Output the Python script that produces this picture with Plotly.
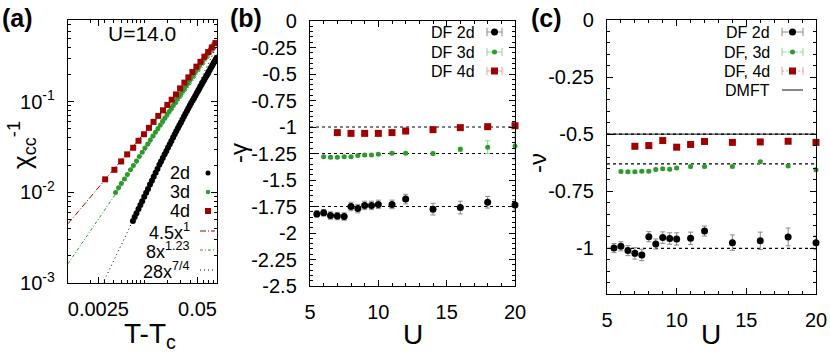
import plotly.graph_objects as go

# ---------------- Panel (a): chi_cc^-1 vs T - Tc at U = 14.0 ----------------
a_x_2d = [0.0071, 0.0075, 0.0079, 0.0084, 0.0089, 0.0094, 0.0100, 0.0106, 0.0112, 0.0119,
          0.0126, 0.0133, 0.0141, 0.0149, 0.0158, 0.0166, 0.0175, 0.0185, 0.0195, 0.0205,
          0.0216, 0.0227, 0.0239, 0.0251, 0.0263, 0.0276, 0.0289, 0.0303, 0.0317, 0.0332,
          0.0347, 0.0363, 0.0379, 0.0396, 0.0413, 0.0431, 0.0449, 0.0468, 0.0487, 0.0507,
          0.0527, 0.0548, 0.0569, 0.0591, 0.0613, 0.0636, 0.0659, 0.0683, 0.0707, 0.0732,
          0.0757, 0.0783, 0.0809, 0.0836, 0.0863, 0.0890]
a_y_2d = [0.00484, 0.00535, 0.00588, 0.00653, 0.00723, 0.00798, 0.00891, 0.00989, 0.0109, 0.0122,
          0.0134, 0.0148, 0.0164, 0.0181, 0.0201, 0.0219, 0.0239, 0.0262, 0.0286, 0.0312,
          0.0339, 0.0369, 0.0402, 0.0438, 0.0471, 0.0509, 0.0548, 0.0590, 0.0635, 0.0684,
          0.0733, 0.0789, 0.0845, 0.0908, 0.0964, 0.1026, 0.1091, 0.1161, 0.1236, 0.1312,
          0.1390, 0.1476, 0.1560, 0.1652, 0.1742, 0.1841, 0.1945, 0.2046, 0.2158, 0.2280,
          0.2393, 0.2518, 0.2642, 0.2773, 0.2911, 0.3048]

a_x_3d = [0.0042, 0.0046, 0.0050, 0.0055, 0.0060, 0.0066, 0.0072, 0.0079, 0.0086, 0.0094,
          0.0102, 0.0111, 0.0120, 0.0130, 0.0140, 0.0151, 0.0162, 0.0174, 0.0186, 0.0199,
          0.0212, 0.0226, 0.0240, 0.0255, 0.0270, 0.0286, 0.0302, 0.0319, 0.0336, 0.0354,
          0.0372, 0.0391, 0.0410, 0.0430, 0.0450, 0.0471, 0.0492, 0.0514, 0.0536, 0.0559,
          0.0582, 0.0606, 0.0630, 0.0655, 0.0680, 0.0706, 0.0732, 0.0759, 0.0786, 0.0814]
a_y_3d = [0.00997, 0.0112, 0.0125, 0.0140, 0.0157, 0.0177, 0.0198, 0.0222, 0.0248, 0.0277,
          0.0308, 0.0342, 0.0378, 0.0418, 0.0460, 0.0506, 0.0554, 0.0606, 0.0660, 0.0719,
          0.0779, 0.0845, 0.0912, 0.0985, 0.1059, 0.1140, 0.1221, 0.1309, 0.1398, 0.1494,
          0.1591, 0.1695, 0.1800, 0.1912, 0.2026, 0.2147, 0.2270, 0.2400, 0.2531, 0.2669,
          0.2810, 0.2958, 0.3107, 0.3264, 0.3423, 0.3590, 0.3759, 0.3936, 0.4115, 0.4302]

a_x_4d = [0.00307, 0.00406, 0.00498, 0.00597, 0.00716, 0.00841, 0.00991, 0.01153, 0.01324, 0.01528,
          0.01762, 0.0201, 0.0229, 0.0261, 0.0295, 0.0336, 0.0379, 0.0428, 0.0483, 0.0546,
          0.0615, 0.0689, 0.0769, 0.0859]
a_y_4d = [0.0139, 0.0177, 0.0219, 0.0262, 0.0310, 0.0370, 0.0437, 0.0514, 0.0598, 0.0696,
          0.0802, 0.092, 0.105, 0.120, 0.140, 0.162, 0.185, 0.212, 0.243, 0.275,
          0.313, 0.352, 0.395, 0.442]

# power-law guides shown in the legend of panel (a): coef * x^exp
fit_labels = ["4.5x<sup>1</sup>", "8x<sup>1.23</sup>", "28x<sup>7/4</sup>"]
fit_coef = [4.5, 8.0, 28.0]
fit_exp = [1.0, 1.23, 1.75]
fit_x = [0.001, 0.09]

a_xtick_vals = [0.0025, 0.05]
a_xtick_text = ["0.0025", "0.05"]
a_ytick_vals = [0.001, 0.01, 0.1]
a_ytick_text = ["10<sup>-3</sup>", "10<sup>-2</sup>", "10<sup>-1</sup>"]

# ---------------- Panel (b): -gamma vs U ----------------
U_2d = [5.5, 6, 6.5, 7, 7.5, 8, 8.5, 9, 9.5, 10, 11, 12, 14, 16, 18, 20]
U_3d = [6, 6.5, 7, 7.5, 8, 8.5, 9, 9.5, 10, 11, 12, 14, 16, 18, 20]
U_4d = [7, 8, 9, 10, 11, 12, 14, 16, 18, 20]

gamma_2d = [-1.82, -1.81, -1.835, -1.84, -1.845, -1.75, -1.77, -1.74, -1.74, -1.73, -1.73, -1.68,
            -1.775, -1.76, -1.71, -1.735]
gamma_2d_err = [0.03, 0.03, 0.035, 0.035, 0.035, 0.04, 0.04, 0.04, 0.04, 0.04, 0.04, 0.045,
                0.055, 0.06, 0.055, 0.05]
gamma_3d = [-1.28, -1.286, -1.286, -1.28, -1.28, -1.27, -1.265, -1.265, -1.257, -1.248, -1.248,
            -1.25, -1.21, -1.19, -1.18]
gamma_3d_err = [0.01, 0.01, 0.01, 0.01, 0.01, 0.01, 0.01, 0.01, 0.01, 0.01, 0.01, 0.015, 0.02,
                0.06, 0.13]
gamma_4d = [-1.053, -1.06, -1.06, -1.06, -1.053, -1.038, -1.025, -1.006, -0.997, -0.988]
gamma_4d_err = [0.01, 0.01, 0.01, 0.01, 0.01, 0.01, 0.01, 0.01, 0.01, 0.01]
gamma_ref = [-1.0, -1.25, -1.75]

b_ytick_vals = [0, -0.25, -0.5, -0.75, -1, -1.25, -1.5, -1.75, -2, -2.25, -2.5]
b_ytick_text = ["0", "-0.25", "-0.5", "-0.75", "-1", "-1.25", "-1.5", "-1.75", "-2", "-2.25", "-2.5"]
U_tick_vals = [5, 10, 15, 20]
U_tick_text = ["5", "10", "15", "20"]

# ---------------- Panel (c): -nu vs U ----------------
nu_2d = [-0.999, -0.991, -1.010, -1.022, -1.029, -0.949, -0.981, -0.953, -0.957, -0.959, -0.956,
         -0.924, -0.975, -0.967, -0.950, -0.976]
nu_2d_err = [0.02, 0.02, 0.022, 0.025, 0.025, 0.022, 0.022, 0.025, 0.025, 0.027, 0.027, 0.022,
             0.034, 0.038, 0.039, 0.03]
nu_3d = [-0.664, -0.665, -0.665, -0.662, -0.662, -0.655, -0.652, -0.654, -0.648, -0.642, -0.642,
         -0.642, -0.621, -0.639, -0.656]
nu_3d_err = [0.006, 0.006, 0.006, 0.006, 0.006, 0.006, 0.006, 0.006, 0.006, 0.006,
             0.006, 0.006, 0.006, 0.006, 0.008]
nu_4d = [-0.553, -0.550, -0.528, -0.557, -0.545, -0.532, -0.536, -0.534, -0.531, -0.536]
nu_4d_err = [0.006, 0.006, 0.006, 0.006, 0.006, 0.006, 0.006, 0.006, 0.006, 0.006]
nu_ref = [-0.5, -0.63, -1.0]
nu_dmft = -0.5

c_ytick_vals = [0, -0.25, -0.5, -0.75, -1]
c_ytick_text = ["0", "-0.25", "-0.5", "-0.75", "-1"]

# ---------------- styling ----------------
RED = "#a00000"
GREEN = "#2e9a2e"
BLACK = "#000000"
RED_ERR = "#e3a3a3"
GREEN_ERR = "#97d197"
BLACK_ERR = "#8a8a8a"
FONT = "Liberation Sans, Arial, Helvetica, sans-serif"
W, H = 830, 353


def dom_x(p0, p1):
    return [p0 / W, p1 / W]


def dom_y(top, bottom):
    return [1 - bottom / H, 1 - top / H]


fig = go.Figure()

# ---- panel (a) ----
fit_colors = [RED, GREEN, BLACK]
fit_dash = ["6px,2px,1px,2px", "3px,2px,1px,2px", "1px,3px"]
for c, p, col, d in zip(fit_coef, fit_exp, fit_colors, fit_dash):
    fig.add_trace(go.Scatter(x=fit_x, y=[c * xv ** p for xv in fit_x], mode="lines",
                             line=dict(color=col, width=1, dash=d), xaxis="x", yaxis="y",
                             showlegend=False, hoverinfo="skip"))
fig.add_trace(go.Scatter(x=a_x_2d, y=a_y_2d, mode="markers", xaxis="x", yaxis="y",
                         marker=dict(symbol="circle", size=6, color=BLACK), showlegend=False))
fig.add_trace(go.Scatter(x=a_x_3d, y=a_y_3d, mode="markers", xaxis="x", yaxis="y",
                         marker=dict(symbol="circle", size=5, color=GREEN), showlegend=False))
fig.add_trace(go.Scatter(x=a_x_4d, y=a_y_4d, mode="markers", xaxis="x", yaxis="y",
                         marker=dict(symbol="square", size=6, color=RED), showlegend=False))


def err_trace(xs, ys, es, col, ecol, sym, size, xa, ya):
    return go.Scatter(x=xs, y=ys, mode="markers", xaxis=xa, yaxis=ya, cliponaxis=False,
                      marker=dict(symbol=sym, size=size, color=col),
                      error_y=dict(type="data", array=es, visible=True, color=ecol,
                                   thickness=1, width=2.5),
                      showlegend=False)


# ---- panel (b) ----
fig.add_trace(err_trace(U_2d, gamma_2d, gamma_2d_err, BLACK, BLACK_ERR, "circle", 7, "x2", "y2"))
fig.add_trace(err_trace(U_3d, gamma_3d, gamma_3d_err, GREEN, GREEN_ERR, "circle", 5, "x2", "y2"))
fig.add_trace(err_trace(U_4d, gamma_4d, gamma_4d_err, RED, RED_ERR, "square", 7, "x2", "y2"))

# ---- panel (c) ----
fig.add_trace(err_trace(U_2d, nu_2d, nu_2d_err, BLACK, BLACK_ERR, "circle", 7, "x3", "y3"))
fig.add_trace(err_trace(U_3d, nu_3d, nu_3d_err, GREEN, GREEN_ERR, "circle", 5, "x3", "y3"))
fig.add_trace(err_trace(U_4d, nu_4d, nu_4d_err, RED, RED_ERR, "square", 7, "x3", "y3"))

# reference lines
for v in gamma_ref:
    fig.add_shape(type="line", xref="x2 domain", x0=0, x1=1, yref="y2", y0=v, y1=v,
                  line=dict(color="black", width=1.2, dash="dot"), layer="below")
fig.add_shape(type="line", xref="x3 domain", x0=0, x1=1, yref="y3", y0=nu_dmft, y1=nu_dmft,
              line=dict(color="#444444", width=1.3), layer="below")
for v in nu_ref:
    fig.add_shape(type="line", xref="x3 domain", x0=0, x1=1, yref="y3", y0=v, y1=v,
                  line=dict(color="black", width=1.2, dash="dot"), layer="below")

# ---- legend samples (drawn in an invisible pixel-coordinate overlay) ----
def sample_line(x0, x1, y, col, dash, width=1, caps=False):
    fig.add_trace(go.Scatter(x=[x0, x1], y=[y, y], mode="lines+markers" if caps else "lines",
                             line=dict(color=col, width=width, dash=dash),
                             marker=dict(symbol="line-ns-open", size=6, line=dict(color=col, width=1)),
                             xaxis="x4", yaxis="y4", cliponaxis=False, showlegend=False,
                             hoverinfo="skip"))


def sample_marker(x, y, col, sym, size):
    fig.add_trace(go.Scatter(x=[x], y=[y], mode="markers", marker=dict(symbol=sym, size=size, color=col),
                             xaxis="x4", yaxis="y4", cliponaxis=False, showlegend=False,
                             hoverinfo="skip"))


annotations = []


def text(x, y, s, size, xanchor="center", yanchor="middle", bold=False, angle=0):
    annotations.append(dict(x=x, y=y, xref="x4", yref="y4", text=("<b>%s</b>" % s) if bold else s,
                            showarrow=False, xanchor=xanchor, yanchor=yanchor, textangle=angle,
                            font=dict(family=FONT, size=size, color="black")))


# panel (a) legend
a_leg_y = [173, 192, 211, 231, 250, 270]
a_leg_labels = ["2d", "3d", "4d"] + fit_labels
for yy, lab in zip(a_leg_y, a_leg_labels):
    text(192, yy, lab, 18, xanchor="right")
sample_marker(208, a_leg_y[0], BLACK, "circle", 5)
sample_marker(208, a_leg_y[1], GREEN, "circle", 4.5)
sample_marker(208, a_leg_y[2], RED, "square", 6)
for yy, col, d in zip(a_leg_y[3:], fit_colors, fit_dash):
    sample_line(200, 215, yy, col, d)

# panel (b) legend
b_leg_y = [32, 52, 71]
b_leg_labels = ["DF 2d", "DF 3d", "DF 4d"]
b_cols = [(BLACK, BLACK_ERR, "circle", 7), (GREEN, GREEN_ERR, "circle", 5), (RED, RED_ERR, "square", 7)]
for yy, lab, (col, ecol, sym, sz) in zip(b_leg_y, b_leg_labels, b_cols):
    text(477, yy, lab, 16, xanchor="right")
    sample_line(487, 502, yy, ecol, "solid", caps=True)
    sample_marker(494.5, yy, col, sym, sz)

# panel (c) legend
c_leg_y = [32, 52, 71, 90]
c_leg_labels = ["DF 2d", "DF, 3d", "DF, 4d", "DMFT"]
c_dash = ["solid", "4px,2px", "2px,2px"]
for yy, lab, (col, ecol, sym, sz), d in zip(c_leg_y, c_leg_labels, b_cols, c_dash):
    text(772, yy, lab, 16, xanchor="right")
    sample_line(782, 803, yy, ecol, d, caps=True)
    sample_marker(792.5, yy, col, sym, sz)
text(772, c_leg_y[3], c_leg_labels[3], 16, xanchor="right")
sample_line(782, 803, c_leg_y[3], "#444444", "solid", width=1.3)

# panel letters and titles
text(17, 18, "(a)", 25, bold=True)
text(246, 18, "(b)", 25, bold=True)
text(546, 18, "(c)", 25, bold=True)
text(142, 33, "U=14.0", 21)
text(150, 335, "T-T<sub>c</sub>", 28)
text(413, 334, "U", 28)
text(711, 334, "U", 28)
text(22, 145, "χ<sub>cc</sub><sup>-1</sup>", 26, angle=-90)
text(238, 153, "-γ", 24, angle=-90)
text(537, 163, "-ν", 24, angle=-90)

axis_common = dict(showline=True, linecolor="black", linewidth=1.2, mirror="ticks",
                   ticks="inside", ticklen=6, tickwidth=1, tickcolor="black",
                   showgrid=False, zeroline=False, automargin=False,
                   tickfont=dict(family=FONT, size=20, color="black"), ticklabelstandoff=8)

a_minor_x = [0.002, 0.003, 0.004, 0.005, 0.006, 0.007, 0.008, 0.009,
             0.01, 0.02, 0.03, 0.04, 0.06, 0.07, 0.08, 0.09]
a_minor_y = [0.002, 0.003, 0.004, 0.005, 0.006, 0.007, 0.008, 0.009,
             0.02, 0.03, 0.04, 0.05, 0.06, 0.07, 0.08, 0.09, 0.2, 0.3, 0.4, 0.5, 0.6, 0.7]

fig.update_layout(
    width=W, height=H, margin=dict(l=0, r=0, t=0, b=0),
    paper_bgcolor="white", plot_bgcolor="rgba(0,0,0,0)", showlegend=False,
    font=dict(family=FONT, color="black"),
    xaxis=dict(axis_common, type="log", domain=dom_x(68, 217), range=[-3, -1.0458],
               tickmode="array", tickvals=a_xtick_vals, ticktext=a_xtick_text, anchor="y",
               minor=dict(tickmode="array", tickvals=a_minor_x, ticks="inside", ticklen=3,
                          tickcolor="black")),
    yaxis=dict(axis_common, type="log", domain=dom_y(20, 283), range=[-3, -0.1],
               tickmode="array", tickvals=a_ytick_vals, ticktext=a_ytick_text, anchor="x",
               minor=dict(tickmode="array", tickvals=a_minor_y, ticks="inside", ticklen=3,
                          tickcolor="black")),
    xaxis2=dict(axis_common, domain=dom_x(310, 515), range=[5, 20], anchor="y2",
                tickmode="array", tickvals=U_tick_vals, ticktext=U_tick_text,
                minor=dict(dtick=1, tick0=5, ticks="inside", ticklen=3, tickcolor="black")),
    yaxis2=dict(axis_common, domain=dom_y(21, 286), range=[-2.5, 0], anchor="x2",
                tickmode="array", tickvals=b_ytick_vals, ticktext=b_ytick_text,
                minor=dict(dtick=0.05, tick0=0, ticks="inside", ticklen=3, tickcolor="black")),
    xaxis3=dict(axis_common, domain=dom_x(607, 816), range=[5, 20], anchor="y3",
                tickmode="array", tickvals=U_tick_vals, ticktext=U_tick_text,
                minor=dict(dtick=1, tick0=5, ticks="inside", ticklen=3, tickcolor="black")),
    yaxis3=dict(axis_common, domain=dom_y(20, 294), range=[-1.2, 0], anchor="x3",
                tickmode="array", tickvals=c_ytick_vals, ticktext=c_ytick_text,
                minor=dict(dtick=0.05, tick0=0, ticks="inside", ticklen=3, tickcolor="black")),
    xaxis4=dict(domain=[0, 1], range=[0, W], visible=False, fixedrange=True, anchor="y4"),
    yaxis4=dict(domain=[0, 1], range=[H, 0], visible=False, fixedrange=True, anchor="x4"),
    annotations=annotations,
)

fig.write_html("out.html", config={"displayModeBar": False, "staticPlot": True},
               post_script="document.body.style.margin='0';document.body.style.overflow='hidden';")
